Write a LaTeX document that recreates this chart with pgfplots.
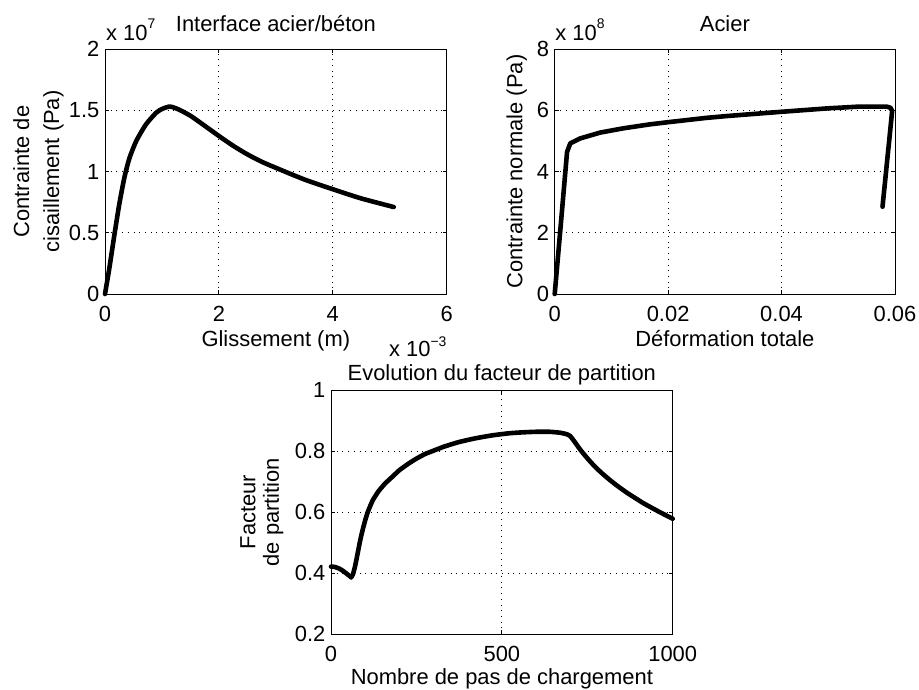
\documentclass[border=0pt]{standalone}
\usepackage{fontspec}
\setmainfont{Liberation Sans}
\usepackage{pgfplots}
\pgfplotsset{compat=1.18}
\pgfplotsset{
  every axis/.append style={
    scale only axis,
    font=\fontsize{22}{26}\selectfont,
    axis line style={line width=0.8bp, black},
    tick style={line width=0.8bp, black},
    major tick length=4bp,
    tick align=inside,
    grid=major,
    major grid style={line width=0.9bp, dash pattern=on 0.9bp off 4.8bp, black},
    scaled ticks=false,
    clip=false,
    /pgf/number format/assume math mode=true,
    /pgf/number format/1000 sep={},
    yticklabel style={inner sep=0pt, anchor=east, xshift=-5.5bp},
    xticklabel style={inner sep=0pt, anchor=north, yshift=-12bp},
    title style={at={(axis description cs:0.5,1)}, anchor=base, inner sep=0pt},
    xlabel style={at={(axis description cs:0.5,0)}, anchor=base, inner sep=0pt},
    ylabel style={anchor=south, inner sep=0pt, align=center},
  },
  curve/.style={line width=4.6bp, black, no marks, line join=round, line cap=round},
}
\begin{document}
\begin{tikzpicture}
\useasboundingbox (0,0) rectangle (919bp,690bp);

% ---------- Plot 1 ----------
\begin{axis}[
  at={(105bp,396bp)}, anchor=south west,
  width=341.7bp, height=245bp,
  xmin=0, xmax=6, ymin=0, ymax=2,
  xtick={0,2,4,6}, xticklabels={0,2,4,6},
  ytick={0,0.5,1,1.5,2}, yticklabels={0,0.5,1,1.5,2},
  title={Interface acier/béton},
  title style={yshift=11.3bp},
  xlabel={Glissement (m)},
  xlabel style={yshift=-52.5bp},
  ylabel={Contrainte de\\cisaillement (Pa)},
  ylabel style={at={(axis description cs:-0.1203,0.5)}, font=\fontsize{22}{30.2}\selectfont},
]
\addplot[curve, smooth, tension=0.4] coordinates {
(0,0) (0.076,0.21) (0.164,0.48) (0.25,0.73) (0.34,0.95) (0.43,1.11)
(0.55,1.25) (0.72,1.385) (0.90,1.48) (1.0,1.51) (1.14,1.53) (1.3,1.505)
(1.5,1.455) (1.7,1.39) (2.0,1.29) (2.25,1.21) (2.5,1.14) (2.75,1.08)
(3.0,1.03) (3.5,0.935) (4.0,0.855) (4.5,0.78) (5.07,0.71)
};
\node[anchor=base west, inner sep=0pt, xshift=1bp, yshift=8.3bp] at (rel axis cs:0,1)
  {x 10\raisebox{12.4bp}{\fontsize{14}{14}\selectfont 7}};
\node[anchor=base east, inner sep=0pt, xshift=0bp, yshift=-62.7bp] at (rel axis cs:1,0)
  {x 10\raisebox{10.5bp}{\fontsize{14}{14}\selectfont −3}};
\end{axis}

% ---------- Plot 2 ----------
\begin{axis}[
  at={(554.7bp,396bp)}, anchor=south west,
  width=340.3bp, height=245bp,
  xmin=0, xmax=0.06, ymin=0, ymax=8,
  xtick={0,0.02,0.04,0.06}, xticklabels={0,0.02,0.04,0.06},
  ytick={0,2,4,6,8}, yticklabels={0,2,4,6,8},
  title={Acier},
  title style={yshift=11.8bp},
  xlabel={Déformation totale},
  xlabel style={yshift=-52.5bp},
  ylabel={Contrainte normale (Pa)},
  ylabel style={at={(axis description cs:-0.0811,0.5)}},
]
\addplot[curve] coordinates {
(0,0) (0.0011,2.32) (0.00218,4.64) (0.00275,4.92) (0.0045,5.08) (0.008,5.27)
(0.0121,5.41) (0.0168,5.54) (0.02,5.61) (0.0267,5.75) (0.0303,5.81)
(0.04,5.95) (0.048,6.06) (0.0538,6.12) (0.0585,6.12) (0.0592,6.08)
(0.0595,5.98) (0.0578,2.85)
};
\node[anchor=base west, inner sep=0pt, xshift=0.5bp, yshift=8.3bp] at (rel axis cs:0,1)
  {x 10\raisebox{12.4bp}{\fontsize{14}{14}\selectfont 8}};
\end{axis}

% ---------- Plot 3 ----------
\begin{axis}[
  at={(331bp,56bp)}, anchor=south west,
  width=341.7bp, height=244bp,
  xmin=0, xmax=1000, ymin=0.2, ymax=1,
  xtick={0,500,1000}, xticklabels={0,500,1000},
  ytick={0.2,0.4,0.6,0.8,1}, yticklabels={0.2,0.4,0.6,0.8,1},
  title={Evolution du facteur de partition},
  title style={yshift=3.3bp},
  xlabel={Nombre de pas de chargement},
  xlabel style={yshift=-50.5bp},
  ylabel={Facteur\\de partition},
  ylabel style={at={(axis description cs:-0.1387,0.5)}, font=\fontsize{22}{23.6}\selectfont},
]
\addplot[curve, smooth, tension=0.3] coordinates {
(0,0.421) (10,0.420) (21,0.416) (31,0.410) (41,0.402) (50,0.394) (59,0.386)
};
\addplot[curve, smooth, tension=0.3] coordinates {
(59,0.386) (64,0.395) (70,0.42) (75,0.447) (80,0.476) (87,0.515) (95,0.552) (102,0.580)
(109,0.604) (122,0.638) (139,0.668) (158,0.693) (178,0.714) (200,0.737)
(226,0.758) (250,0.775) (275,0.790) (300,0.801) (330,0.814) (373,0.829)
(420,0.841) (470,0.851) (520,0.858) (558,0.861) (600,0.863) (640,0.863)
(670,0.860) (690,0.855) (700,0.849) (715,0.827) (729,0.805) (748,0.779)
(768,0.754) (790,0.730) (816,0.705) (840,0.684) (865,0.664) (890,0.646)
(914,0.629) (940,0.613) (963,0.599) (1000,0.578)
};
\end{axis}
\end{tikzpicture}
\end{document}
